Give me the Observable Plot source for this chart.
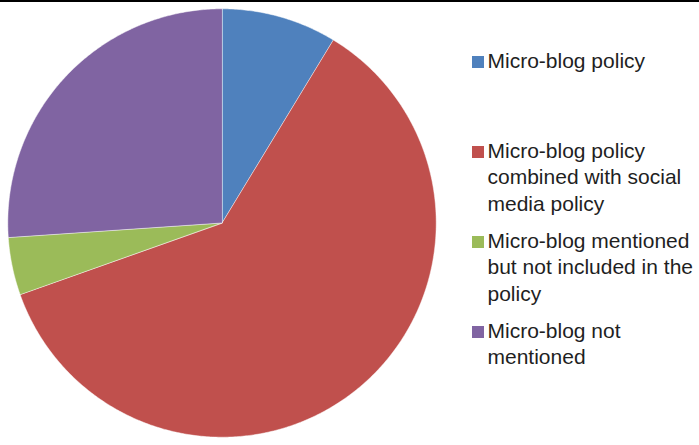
<!DOCTYPE html>
<html>
<head>
<meta charset="utf-8">
<script src="https://cdn.jsdelivr.net/npm/d3@7"></script>
<script src="https://cdn.jsdelivr.net/npm/@observablehq/plot@0.6"></script>
<style>
  html, body { margin: 0; padding: 0; background: #fff; }
  #wrap { position: relative; width: 699px; height: 445px; overflow: hidden; font-family: "Liberation Sans", Arial, Helvetica, sans-serif; }
  #wrap svg { position: absolute; left: 0; top: 0; }
  #topline { position: absolute; left: 0; top: 0; width: 699px; height: 2px; background: #000; }
  #legend { position: absolute; left: 472px; top: 47.7px; }
  .item { display: flex; align-items: flex-start; height: 90px; }
  .sw { width: 12px; height: 12px; margin-top: 8.6px; flex: none; }
  .lab { margin-left: 3.5px; width: 212px; font-size: 21px; line-height: 26.7px; color: #1f1f1f; }
</style>
</head>
<body>
<div id="wrap"><div id="topline"></div><div id="legend"></div></div>
<script>
const categories = [
  "Micro-blog policy",
  "Micro-blog policy combined with social media policy",
  "Micro-blog mentioned but not included in the policy",
  "Micro-blog not mentioned"
];
const values = [2, 14, 1, 6];
const colors = ["#4F81BD", "#C0504D", "#9BBB59", "#8064A2"];

// Pie layout (clockwise from 12 o'clock)
const arcs = d3.pie().sort(null).startAngle(0).endAngle(2 * Math.PI)(values);
const pts = [];
arcs.forEach((a, i) => {
  const cat = categories[i];
  pts.push({cat, x: 0, y: 0});
  const n = Math.max(2, Math.ceil((a.endAngle - a.startAngle) / (Math.PI / 360)));
  for (let k = 0; k <= n; k++) {
    const t = a.startAngle + (a.endAngle - a.startAngle) * k / n;
    pts.push({cat, x: Math.sin(t), y: Math.cos(t)});
  }
});

const cx = 221.5, cy = 222.5, r = 214.2;
const chart = Plot.plot({
  width: 699,
  height: 445,
  margin: 0,
  x: {domain: [-1, 1], range: [cx - r, cx + r], axis: null},
  y: {domain: [-1, 1], range: [cy + r, cy - r], axis: null},
  color: {domain: categories, range: colors},
  marks: [
    Plot.line(pts, {
      x: "x", y: "y", z: "cat", fill: "cat",
      stroke: "white", strokeWidth: 0.6, strokeOpacity: 0.8,
      curve: "linear-closed"
    })
  ]
});
const wrap = document.getElementById("wrap");
wrap.insertBefore(chart, wrap.firstChild);

const legend = document.getElementById("legend");
categories.forEach((c, i) => {
  const item = document.createElement("div");
  item.className = "item";
  const sw = document.createElement("div");
  sw.className = "sw";
  sw.style.background = colors[i];
  const lab = document.createElement("div");
  lab.className = "lab";
  lab.textContent = c;
  item.appendChild(sw);
  item.appendChild(lab);
  legend.appendChild(item);
});
</script>
</body>
</html>
